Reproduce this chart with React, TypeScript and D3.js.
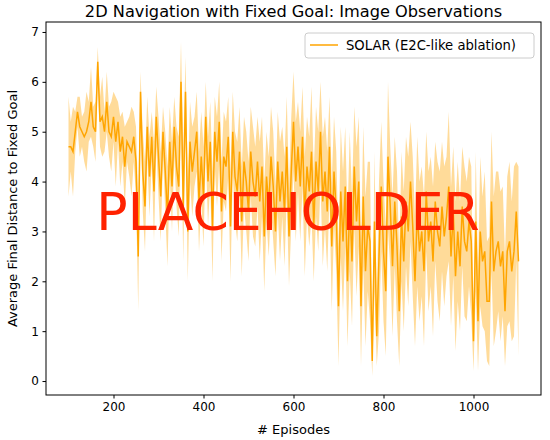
import React, { useEffect, useRef } from 'react';
import * as d3 from 'd3';

const episodes: number[] = d3.range(100, 1101, 5);

const meanDist: number[] = [
  4.7, 4.7, 4.6, 5.0, 5.4, 5.1, 5.0, 4.9, 5.0, 5.2,
  5.6, 5.1, 5.0, 6.4, 5.2, 5.3, 5.0, 5.6, 5.0, 4.9,
  5.3, 4.8, 5.2, 4.6, 4.9, 4.3, 4.8, 4.7, 4.6, 4.9,
  4.4, 2.5, 5.8, 4.2, 3.5, 5.1, 4.1, 4.9, 3.8, 5.3,
  4.5, 3.7, 5.0, 4.2, 3.3, 4.8, 3.9, 5.1, 4.3, 3.9,
  6.0, 3.5, 5.8, 3.0, 4.8, 4.2, 4.6, 5.0, 3.6, 4.5,
  3.7, 5.3, 4.0, 4.8, 3.1, 5.0, 4.4, 5.2, 3.4, 4.5,
  4.3, 4.9, 3.1, 5.0, 4.1, 3.8, 4.6, 3.2, 4.4, 4.0,
  3.4, 4.6, 4.0, 3.7, 4.4, 3.6, 4.3, 2.9, 4.1, 3.5,
  4.5, 3.9, 3.0, 4.4, 3.6, 4.2, 3.4, 4.7, 2.9, 4.2,
  5.2, 4.0, 4.7, 3.9, 4.9, 3.3, 4.3, 3.8, 4.6, 3.1,
  4.4, 3.8, 5.0, 3.6, 4.2, 3.4, 4.7, 2.7, 4.2, 3.4,
  1.5, 3.8, 2.8, 3.9, 2.0, 3.6, 2.4, 4.3, 3.2, 4.0,
  1.5, 3.7, 2.2, 3.1, 2.8, 0.4, 3.2, 0.9, 2.5, 3.9,
  2.6, 1.8, 4.5, 3.5, 2.3, 3.6, 2.7, 1.4, 3.3, 2.4,
  3.6, 3.0, 4.0, 3.1, 2.0, 3.4, 2.6, 3.0, 2.2, 3.8,
  2.8, 3.2, 2.4, 3.6, 3.0, 2.7, 3.5, 2.9, 3.3, 3.9,
  2.5, 3.4, 2.1, 3.0, 2.3, 3.5, 2.8, 2.6, 3.2, 2.8,
  0.8, 3.2, 1.2, 3.0, 2.4, 2.6, 1.6, 1.6, 3.6, 2.2,
  2.6, 2.8, 2.3, 2.6, 1.4, 2.6, 2.8, 2.2, 2.6, 3.4,
  2.4,
];

const spread: number[] = [
  1.0, 0.5, 0.9, 0.4, 0.3, 0.6, 0.3, 0.5, 0.8, 0.4,
  0.7, 0.4, 0.6, 0.3, 0.5, 0.8, 0.4, 0.6, 0.5, 0.7,
  0.5, 0.9, 0.4, 0.7, 0.5, 0.8, 0.4, 0.6, 0.9, 0.5,
  0.7, 1.1, 0.4, 0.8, 0.9, 0.6, 0.8, 0.5, 1.0, 0.6,
  0.8, 0.9, 0.5, 0.8, 1.0, 0.7, 0.9, 0.6, 0.8, 1.0,
  0.8, 1.1, 0.7, 1.0, 0.8, 0.9, 0.7, 0.8, 1.0, 0.9,
  1.0, 0.7, 0.9, 0.8, 1.1, 0.7, 0.9, 0.8, 1.0, 0.9,
  0.9, 0.8, 1.1, 0.8, 0.9, 1.0, 0.9, 1.1, 0.9, 1.0,
  1.0, 0.9, 1.1, 1.0, 0.9, 1.2, 1.0, 1.1, 0.9, 1.0,
  1.0, 1.1, 0.9, 1.0, 1.2, 0.9, 1.1, 1.0, 1.0, 1.1,
  1.0, 1.2, 0.9, 1.1, 1.0, 1.2, 1.0, 1.1, 1.3, 1.1,
  1.1, 1.2, 1.0, 1.3, 1.1, 1.2, 1.0, 1.3, 1.1, 1.2,
  1.2, 1.3, 1.4, 1.2, 1.3, 1.4, 1.3, 1.2, 1.5, 1.3,
  1.2, 1.4, 1.5, 1.3, 1.6, 0.3, 1.4, 0.6, 1.5, 1.3,
  1.4, 1.3, 1.5, 1.2, 1.4, 1.3, 1.5, 1.1, 1.3, 1.4,
  1.3, 1.5, 1.2, 1.4, 1.3, 1.5, 1.4, 1.3, 1.5, 1.2,
  1.4, 1.3, 1.5, 1.2, 1.4, 1.5, 1.3, 1.4, 1.2, 1.5,
  1.4, 1.3, 1.5, 1.4, 1.3, 1.2, 1.5, 1.4, 1.3, 1.5,
  0.6, 1.4, 1.0, 1.5, 1.3, 1.6, 1.2, 1.3, 1.4, 1.5,
  1.6, 1.4, 1.5, 1.3, 1.1, 1.5, 1.6, 1.4, 1.7, 1.0,
  1.9,
];

const xTicks: number[] = [200, 400, 600, 800, 1000];
const yTicks: number[] = [0, 1, 2, 3, 4, 5, 6, 7];

const App: React.FC = () => {
  const ref = useRef<SVGSVGElement | null>(null);

  useEffect(() => {
    if (!ref.current) return;
    const svg = d3.select(ref.current);
    svg.selectAll('*').remove();

    const left = 46, right = 541, top = 22, bottom = 395;
    const x = d3.scaleLinear().domain([50, 1150]).range([left, right]);
    const y = d3.scaleLinear().domain([-0.28, 7.2]).range([bottom, top]);
    const font = 'DejaVu Sans, sans-serif';
    const color = '#ffa500';

    const rows = episodes.map((e, i) => ({ e, m: meanDist[i], s: spread[i] }));

    svg.append('path')
      .datum(rows)
      .attr('fill', color)
      .attr('fill-opacity', 0.4)
      .attr('d', d3.area<any>()
        .x((d) => x(d.e))
        .y0((d) => y(Math.max(0.05, d.m - d.s)))
        .y1((d) => y(d.m + d.s)));

    svg.append('path')
      .datum(rows)
      .attr('fill', 'none')
      .attr('stroke', color)
      .attr('stroke-width', 1.5)
      .attr('d', d3.line<any>().x((d) => x(d.e)).y((d) => y(d.m)));

    svg.append('rect')
      .attr('x', left).attr('y', top)
      .attr('width', right - left).attr('height', bottom - top)
      .attr('fill', 'none').attr('stroke', '#000').attr('stroke-width', 1);

    const xa = svg.append('g')
      .attr('transform', `translate(0,${bottom})`)
      .call(d3.axisBottom(x).tickValues(xTicks).tickFormat(d3.format('d')).tickSize(3.5).tickPadding(3.5));
    const ya = svg.append('g')
      .attr('transform', `translate(${left},0)`)
      .call(d3.axisLeft(y).tickValues(yTicks).tickFormat(d3.format('d')).tickSize(3.5).tickPadding(3.5));
    [xa, ya].forEach((a) => {
      a.select('.domain').remove();
      a.selectAll('text').attr('font-family', font).attr('font-size', 12).attr('fill', '#000');
    });

    svg.append('text')
      .attr('x', (left + right) / 2).attr('y', 434)
      .attr('text-anchor', 'middle')
      .attr('font-family', font).attr('font-size', 13)
      .text('# Episodes');

    svg.append('text')
      .attr('transform', `translate(17,${(top + bottom) / 2}) rotate(-90)`)
      .attr('text-anchor', 'middle')
      .attr('font-family', font).attr('font-size', 13)
      .text('Average Final Distance to Fixed Goal');

    svg.append('text')
      .attr('x', (left + right) / 2).attr('y', 17)
      .attr('text-anchor', 'middle')
      .attr('font-family', font).attr('font-size', 16.2)
      .text('2D Navigation with Fixed Goal: Image Observations');

    // legend
    const lg = svg.append('g').attr('transform', 'translate(305,33)');
    lg.append('rect')
      .attr('width', 229).attr('height', 25).attr('rx', 3)
      .attr('fill', '#fff').attr('fill-opacity', 0.8)
      .attr('stroke', '#ccc');
    lg.append('line')
      .attr('x1', 5).attr('x2', 33).attr('y1', 12).attr('y2', 12)
      .attr('stroke', color).attr('stroke-width', 1.5);
    lg.append('text')
      .attr('x', 41).attr('y', 17)
      .attr('font-family', font).attr('font-size', 13.2)
      .text('SOLAR (E2C-like ablation)');

    svg.append('text')
      .attr('x', 288).attr('y', 230)
      .attr('text-anchor', 'middle')
      .attr('font-family', font).attr('font-size', 52)
      .attr('fill', '#ff2200')
      .text('PLACEHOLDER');
  }, []);

  return (
    <svg ref={ref} width={550} height={440}
      style={{ position: 'absolute', left: 0, top: 0, background: '#fff' }} />
  );
};

export default App;
